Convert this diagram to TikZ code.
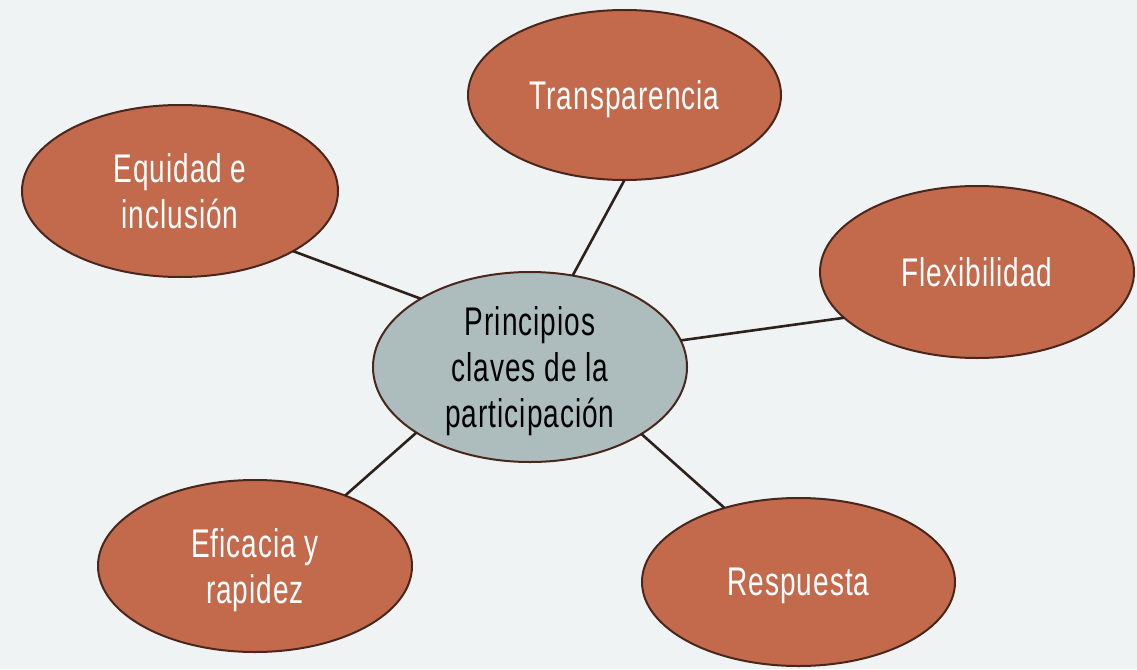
\documentclass[tikz,border=0pt]{standalone}
\usepackage{fontspec}
\setmainfont{Liberation Sans}[FakeStretch=0.7,LetterSpace=2.5]
\usetikzlibrary{shapes.geometric}
\definecolor{bg}{HTML}{EFF3F4}
\definecolor{orangefill}{HTML}{C46A4C}
\definecolor{centerfill}{HTML}{ADBDBD}
\definecolor{outline}{HTML}{4A271C}
\definecolor{linkcol}{HTML}{2E201B}
\tikzset{
  bubble/.style={ellipse, draw=outline, line width=2pt, fill=orangefill, inner sep=0pt, outer sep=0pt,
    minimum width=314pt, minimum height=172pt, align=center, text=white, text depth=0pt,
    font=\fontsize{40}{46}\selectfont},
  hub/.style={bubble, fill=centerfill, text=black, minimum width=314pt, minimum height=190pt},
  link/.style={draw=linkcol, line width=2.6pt}
}
\begin{document}
\begin{tikzpicture}[x=1pt,y=-1pt]
\useasboundingbox (0,0) rectangle (1137,669);
\fill[bg] (0,0) rectangle (1137,669);
\node[hub] (c) at (530,367) {Principios\\claves de la\\participación};
\node[bubble, minimum width=313pt, minimum height=170pt] (t) at (624.5,95) {Transparencia};
\node[bubble, minimum width=316pt] (e) at (180,191) {Equidad e\\inclusión};
\node[bubble] (f) at (977,272) {Flexibilidad};
\node[bubble] (ef) at (255,566) {Eficacia y\\rapidez};
\node[bubble, minimum width=313pt, minimum height=168pt] (r) at (798.5,582) {Respuesta};
\draw[link] (c.65) -- (t.-90);
\draw[link] (c.148) -- (e.-28.6);
\draw[link] (c.10.5) -- (f.199.6);
\draw[link] (c.210.4) -- (ef.38.8);
\draw[link] (c.-31.1) -- (r.135.8);
\end{tikzpicture}
\end{document}
